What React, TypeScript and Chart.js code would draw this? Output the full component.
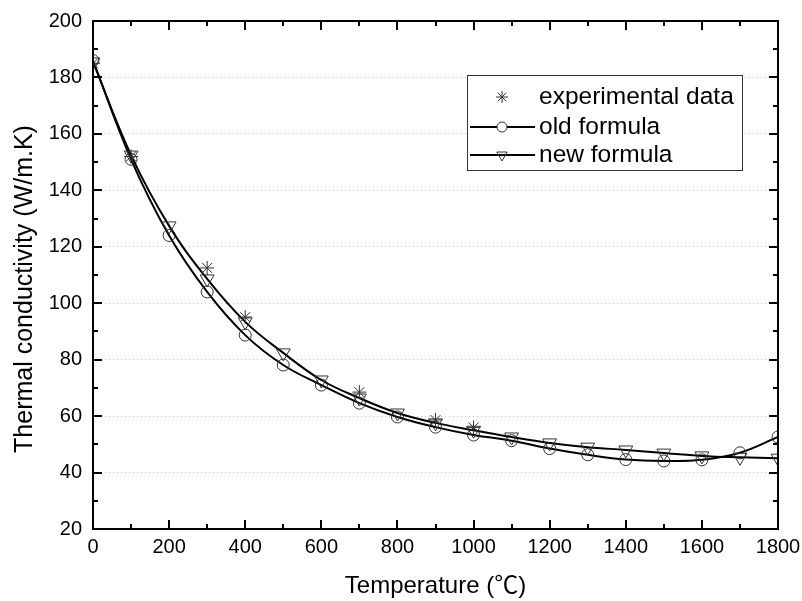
import React, { useEffect, useRef } from 'react';
import { Chart, registerables } from 'chart.js';

Chart.register(...registerables);

const FONT = '"Liberation Sans", Arial, "Noto Sans CJK SC", sans-serif';

// Temperature (°C)
const temperatures = [0, 100, 200, 300, 400, 500, 600, 700, 800, 900, 1000, 1100, 1200, 1300, 1400, 1500, 1600, 1700, 1800];
// Old formula (W/m.K)
const oldFormula = [186, 151, 124, 104, 88.7, 78.1, 71, 64.6, 59.7, 56.1, 53.3, 51.3, 48.5, 46.3, 44.6, 44.1, 44.5, 47, 52.6];
// New formula (W/m.K)
const newFormula = [185.5, 152.5, 127.4, 108.6, 93.4, 82.4, 72.8, 66.4, 61.1, 57.6, 55, 52.6, 50.5, 49, 48, 46.9, 45.9, 45.4, 45.1];
// Experimental data
const expTemperatures = [0, 100, 300, 400, 700, 900, 1000];
const expValues = [185, 152, 112.5, 95.1, 68.5, 58.6, 56];

const xTicks = { min: 0, max: 1800, major: 200, minor: 100 };
const yTicks = { min: 20, max: 200, major: 20, minor: 10 };

const seriesLabels = ['experimental data', 'old formula', 'new formula'];
const xTitle = 'Temperature (℃)';
const yTitle = 'Thermal conductivity (W/m.K)';

function drawStar(ctx: CanvasRenderingContext2D, x: number, y: number, r: number) {
  ctx.beginPath();
  for (let k = 0; k < 4; k++) {
    const a = (k * Math.PI) / 4;
    ctx.moveTo(x - Math.cos(a) * r, y - Math.sin(a) * r);
    ctx.lineTo(x + Math.cos(a) * r, y + Math.sin(a) * r);
  }
  ctx.stroke();
}

function drawTriangleDown(ctx: CanvasRenderingContext2D, x: number, y: number, r: number) {
  ctx.beginPath();
  for (let k = 0; k < 3; k++) {
    const a = Math.PI + (k * 2 * Math.PI) / 3;
    const px = x + Math.sin(a) * r;
    const py = y - Math.cos(a) * r;
    if (k === 0) ctx.moveTo(px, py);
    else ctx.lineTo(px, py);
  }
  ctx.closePath();
  ctx.stroke();
}

const framePlugin = {
  id: 'frameTicks',
  afterDraw(chart: any) {
    const { ctx, chartArea } = chart;
    const xs = chart.scales.x;
    const ys = chart.scales.y;
    const { left, right, top, bottom } = chartArea;
    ctx.save();
    ctx.strokeStyle = '#000';
    ctx.lineWidth = 2;
    ctx.strokeRect(left, top, right - left, bottom - top);
    ctx.lineWidth = 2;
    ctx.beginPath();
    for (let v = xTicks.min; v <= xTicks.max; v += xTicks.minor) {
      const len = v % xTicks.major === 0 ? 9 : 5;
      const px = Math.round(xs.getPixelForValue(v));
      ctx.moveTo(px, bottom);
      ctx.lineTo(px, bottom - len);
      ctx.moveTo(px, top);
      ctx.lineTo(px, top + len);
    }
    for (let v = yTicks.min; v <= yTicks.max; v += yTicks.minor) {
      const len = v % yTicks.major === 0 ? 9 : 5;
      const py = Math.round(ys.getPixelForValue(v));
      ctx.moveTo(left, py);
      ctx.lineTo(left + len, py);
      ctx.moveTo(right, py);
      ctx.lineTo(right - len, py);
    }
    ctx.stroke();

    // Y axis title
    ctx.save();
    ctx.translate(25, 289);
    ctx.rotate(-Math.PI / 2);
    ctx.font = `25px ${FONT}`;
    ctx.fillStyle = '#000';
    ctx.textAlign = 'center';
    ctx.textBaseline = 'middle';
    ctx.fillText(yTitle, 0, 0);
    ctx.restore();

    // Legend box
    const bx = 467, by = 75, bw = 275, bh = 95;
    ctx.fillStyle = '#fff';
    ctx.fillRect(bx, by, bw, bh);
    ctx.lineWidth = 1;
    ctx.strokeStyle = '#333';
    ctx.strokeRect(bx + 0.5, by + 0.5, bw, bh);
    const rows = [97, 127, 155];
    const mx = 502;
    ctx.font = `24.5px ${FONT}`;
    ctx.textBaseline = 'middle';
    ctx.textAlign = 'left';
    rows.forEach((ry, i) => {
      ctx.strokeStyle = '#000';
      if (i > 0) {
        ctx.lineWidth = 2;
        ctx.beginPath();
        ctx.moveTo(470, ry);
        ctx.lineTo(535, ry);
        ctx.stroke();
      }
      ctx.lineWidth = 1;
      ctx.strokeStyle = '#333';
      if (i === 0) drawStar(ctx, mx, ry, 6);
      if (i === 1) {
        ctx.fillStyle = '#fff';
        ctx.beginPath();
        ctx.arc(mx, ry, 5, 0, Math.PI * 2);
        ctx.fill();
        ctx.stroke();
      }
      if (i === 2) {
        ctx.fillStyle = '#fff';
        drawTriangleDown(ctx, mx, ry, 6);
      }
      ctx.fillStyle = '#000';
      ctx.fillText(seriesLabels[i], 539, ry);
    });
    ctx.restore();
  },
};

export default function App() {
  const canvasRef = useRef<HTMLCanvasElement | null>(null);

  useEffect(() => {
    if (!canvasRef.current) return;
    const chart = new Chart(canvasRef.current, {
      type: 'line',
      data: {
        datasets: [
          {
            label: seriesLabels[0],
            data: expTemperatures.map((t, i) => ({ x: t, y: expValues[i] })),
            showLine: false,
            pointStyle: 'star',
            pointRadius: 7,
            borderColor: '#333',
            pointBorderWidth: 1,
            backgroundColor: 'rgba(0,0,0,0)',
            order: 0,
          },
          {
            label: seriesLabels[1],
            data: temperatures.map((t, i) => ({ x: t, y: oldFormula[i] })),
            borderColor: '#000',
            borderWidth: 2,
            tension: 0.4,
            pointStyle: 'circle',
            pointRadius: 6,
            pointBorderColor: '#333',
            pointBorderWidth: 1,
            pointBackgroundColor: 'rgba(0,0,0,0)',
            fill: false,
            order: 2,
          },
          {
            label: seriesLabels[2],
            data: temperatures.map((t, i) => ({ x: t, y: newFormula[i] })),
            borderColor: '#000',
            borderWidth: 2,
            tension: 0.4,
            pointStyle: 'triangle',
            pointRotation: 180,
            pointRadius: 8,
            pointBorderColor: '#333',
            pointBorderWidth: 1,
            pointBackgroundColor: 'rgba(0,0,0,0)',
            fill: false,
            order: 1,
          },
        ],
      },
      options: {
        responsive: false,
        animation: false,
        layout: { padding: { left: 0, right: 24, top: 21, bottom: 0 } },
        plugins: { legend: { display: false }, tooltip: { enabled: false } },
        scales: {
          x: {
            type: 'linear',
            min: xTicks.min,
            max: xTicks.max,
            ticks: {
              stepSize: xTicks.major,
              padding: 6,
              color: '#000',
              font: { size: 20, family: FONT },
              callback: (v: any) => String(v),
            },
            grid: { display: false, drawTicks: false },
            border: { display: false },
            title: {
              display: true,
              text: xTitle,
              color: '#000',
              font: { size: 24, family: FONT },
              padding: { top: 6, bottom: 0 },
            },
            afterFit: (s: any) => {
              s.height = 72;
              s.paddingLeft = 0;
              s.paddingRight = 0;
            },
          },
          y: {
            type: 'linear',
            min: yTicks.min,
            max: yTicks.max,
            ticks: {
              stepSize: yTicks.major,
              padding: 11,
              color: '#000',
              font: { size: 20, family: FONT },
              callback: (v: any) => String(v),
            },
            grid: { display: true, drawTicks: false, color: '#c4c4c4', lineWidth: 1 },
            border: { display: false, dash: [1, 3] },
            title: { display: false },
            afterFit: (s: any) => {
              s.width = 93;
              s.paddingTop = 0;
              s.paddingBottom = 0;
            },
          },
        },
      },
      plugins: [framePlugin],
    } as any);
    return () => chart.destroy();
  }, []);

  return (
    <div style={{ position: 'absolute', left: 0, top: 0, width: 802, height: 601, background: '#fff' }}>
      <canvas ref={canvasRef} width={802} height={601} style={{ display: 'block' }} />
    </div>
  );
}
